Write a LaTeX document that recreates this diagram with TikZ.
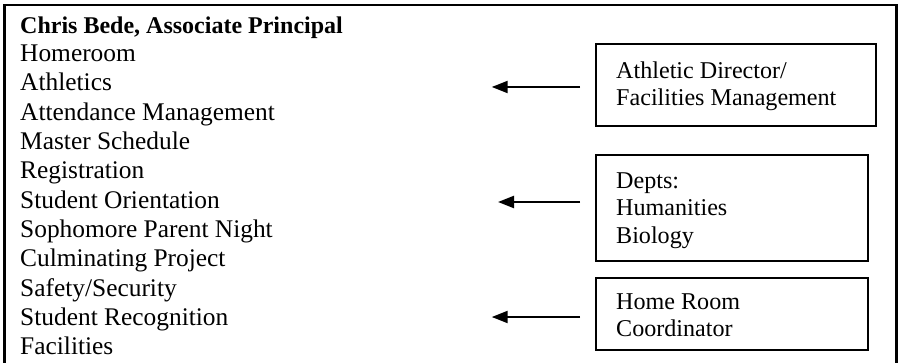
\documentclass[tikz,border=0pt]{standalone}
\usepackage{fontspec}
\setmainfont{Liberation Serif}
\usetikzlibrary{arrows.meta}
\begin{document}
\begin{tikzpicture}[x=1pt,y=-1pt,
  frame/.style={line width=2.2pt},
  boxstyle/.style={draw, line width=2pt, rectangle, inner sep=0pt, anchor=north west},
  listtext/.style={anchor=base west, inner sep=0pt, font=\fontsize{25.4}{29.3}\selectfont},
  boxtext/.style={anchor=base west, inner sep=0pt, font=\fontsize{24.1}{27.5}\selectfont},
  pointer/.style={line width=2.2pt, -{Triangle[length=16pt,width=12pt]}}]
\useasboundingbox (0,0) rectangle (901,363);
% outer frame (open at bottom)
\draw[frame] (4.5,363) -- (4.5,5) -- (896.5,5) -- (896.5,363);
% left list
\node[listtext, font=\fontsize{24}{29.3}\selectfont\bfseries] (title) at (20,33.3) {Chris Bede, Associate Principal};
\foreach \t [count=\i] in {Homeroom, Athletics, Attendance Management, Master Schedule, Registration, Student Orientation, Sophomore Parent Night, Culminating Project, Safety/Security, Student Recognition, Facilities}
  \node[listtext] (item\i) at (20,{61.7+29.3*(\i-1)}) {\t};
% right boxes
\node[boxstyle, minimum width=280pt, minimum height=82pt] (b1) at (595,43) {};
\node[boxstyle, minimum width=272pt, minimum height=105pt] (b2) at (595,154.5) {};
\node[boxstyle, minimum width=272pt, minimum height=72pt] (b3) at (595,276.5) {};
\node[boxtext] (b1t1) at (616,78.3) {Athletic Director/};
\node[boxtext] (b1t2) at (616,106) {Facilities Management};
\node[boxtext] (b2t1) at (616,188.5) {Depts:};
\node[boxtext] (b2t2) at (616,216) {Humanities};
\node[boxtext] (b2t3) at (616,243.3) {Biology};
\node[boxtext] (b3t1) at (616,309.3) {Home Room};
\node[boxtext] (b3t2) at (616,336.7) {Coordinator};
% arrows
\coordinate (a1s) at (580,87);
\coordinate (a1e) at (491.7,87);
\coordinate (a2s) at (580,202);
\coordinate (a2e) at (498,202);
\coordinate (a3s) at (580,317);
\coordinate (a3e) at (491.7,317);
\draw[pointer] (a1s) -- (a1e);
\draw[pointer] (a2s) -- (a2e);
\draw[pointer] (a3s) -- (a3e);
\end{tikzpicture}
\end{document}
